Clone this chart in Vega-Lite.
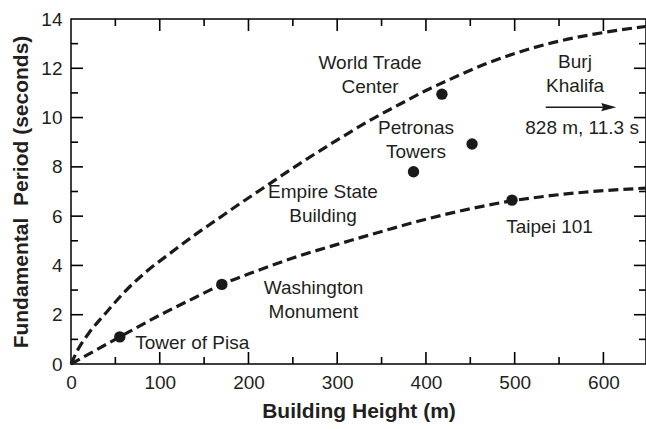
{
  "$schema": "https://vega.github.io/schema/vega-lite/v6.json",
  "width": 575,
  "height": 345,
  "autosize": "none",
  "padding": {"left": 71, "top": 19, "right": 0, "bottom": 65},
  "config": {
    "view": {"stroke": "#000", "strokeWidth": 1.5},
    "font": "Liberation Sans",
    "axis": {"grid": false, "domain": false, "ticks": false, "labelColor": "#231f20", "titleColor": "#231f20", "labelFont": "Liberation Sans", "titleFont": "Liberation Sans", "labelFlush": false, "labelOverlap": false}
  },
  "datasets": {
    "curves": [
      {"curve": "upper", "h": 0, "T": 0},
      {"curve": "upper", "h": 8, "T": 0.6},
      {"curve": "upper", "h": 20, "T": 1.25},
      {"curve": "upper", "h": 40, "T": 2.1},
      {"curve": "upper", "h": 61, "T": 2.95},
      {"curve": "upper", "h": 85, "T": 3.75},
      {"curve": "upper", "h": 112, "T": 4.5},
      {"curve": "upper", "h": 140, "T": 5.25},
      {"curve": "upper", "h": 164, "T": 5.85},
      {"curve": "upper", "h": 190, "T": 6.5},
      {"curve": "upper", "h": 215, "T": 7.1},
      {"curve": "upper", "h": 250, "T": 7.95},
      {"curve": "upper", "h": 296, "T": 9.0},
      {"curve": "upper", "h": 340, "T": 9.95},
      {"curve": "upper", "h": 371, "T": 10.55},
      {"curve": "upper", "h": 400, "T": 11.1},
      {"curve": "upper", "h": 427, "T": 11.55},
      {"curve": "upper", "h": 469, "T": 12.2},
      {"curve": "upper", "h": 500, "T": 12.6},
      {"curve": "upper", "h": 544, "T": 13.05},
      {"curve": "upper", "h": 600, "T": 13.45},
      {"curve": "upper", "h": 648, "T": 13.7},
      {"curve": "lower", "h": 0, "T": 0},
      {"curve": "lower", "h": 55, "T": 1.1},
      {"curve": "lower", "h": 100, "T": 1.98},
      {"curve": "lower", "h": 140, "T": 2.7},
      {"curve": "lower", "h": 170, "T": 3.23},
      {"curve": "lower", "h": 202, "T": 3.68},
      {"curve": "lower", "h": 250, "T": 4.3},
      {"curve": "lower", "h": 314, "T": 5.0},
      {"curve": "lower", "h": 360, "T": 5.48},
      {"curve": "lower", "h": 390, "T": 5.78},
      {"curve": "lower", "h": 450, "T": 6.3},
      {"curve": "lower", "h": 497, "T": 6.62},
      {"curve": "lower", "h": 540, "T": 6.83},
      {"curve": "lower", "h": 578, "T": 6.97},
      {"curve": "lower", "h": 620, "T": 7.08},
      {"curve": "lower", "h": 648, "T": 7.14}
    ],
    "buildings": [
      {"name": "Tower of Pisa", "h": 55, "T": 1.1},
      {"name": "Washington Monument", "h": 170, "T": 3.23},
      {"name": "Empire State Building", "h": 386, "T": 7.8},
      {"name": "World Trade Center", "h": 418, "T": 10.95},
      {"name": "Petronas Towers", "h": 452, "T": 8.93},
      {"name": "Taipei 101", "h": 497, "T": 6.65}
    ],
    "labels": [
      {"text": "World Trade\nCenter", "h": 337, "T": 12.2},
      {"text": "Burj\nKhalifa", "h": 568, "T": 12.24},
      {"text": "828 m, 11.3 s", "h": 576, "T": 9.56},
      {"text": "Petronas\nTowers", "h": 388.8, "T": 9.59},
      {"text": "Empire State\nBuilding", "h": 284, "T": 6.99},
      {"text": "Washington\nMonument", "h": 273.3, "T": 3.07},
      {"text": "Tower of Pisa", "h": 136.6, "T": 0.84},
      {"text": "Taipei 101", "h": 539.3, "T": 5.55}
    ],
    "arrow": [
      {"h": 535, "h2": 606, "T": 10.42}
    ],
    "xticks": [
      {"h": 100, "T": 0.2435, "kind": "major"},
      {"h": 200, "T": 0.2435, "kind": "major"},
      {"h": 300, "T": 0.2435, "kind": "major"},
      {"h": 400, "T": 0.2435, "kind": "major"},
      {"h": 500, "T": 0.2435, "kind": "major"},
      {"h": 600, "T": 0.2435, "kind": "major"},
      {"h": 50, "T": 0.142, "kind": "minor"},
      {"h": 150, "T": 0.142, "kind": "minor"},
      {"h": 250, "T": 0.142, "kind": "minor"},
      {"h": 350, "T": 0.142, "kind": "minor"},
      {"h": 450, "T": 0.142, "kind": "minor"},
      {"h": 550, "T": 0.142, "kind": "minor"},
      {"h": 100, "T": 13.7565, "kind": "major"},
      {"h": 200, "T": 13.7565, "kind": "major"},
      {"h": 300, "T": 13.7565, "kind": "major"},
      {"h": 400, "T": 13.7565, "kind": "major"},
      {"h": 500, "T": 13.7565, "kind": "major"},
      {"h": 600, "T": 13.7565, "kind": "major"},
      {"h": 50, "T": 13.858, "kind": "minor"},
      {"h": 150, "T": 13.858, "kind": "minor"},
      {"h": 250, "T": 13.858, "kind": "minor"},
      {"h": 350, "T": 13.858, "kind": "minor"},
      {"h": 450, "T": 13.858, "kind": "minor"},
      {"h": 550, "T": 13.858, "kind": "minor"}
    ],
    "yticks": [
      {"h": 6.76, "T": 2, "kind": "major"},
      {"h": 6.76, "T": 4, "kind": "major"},
      {"h": 6.76, "T": 6, "kind": "major"},
      {"h": 6.76, "T": 8, "kind": "major"},
      {"h": 6.76, "T": 10, "kind": "major"},
      {"h": 6.76, "T": 12, "kind": "major"},
      {"h": 3.94, "T": 1, "kind": "minor"},
      {"h": 3.94, "T": 3, "kind": "minor"},
      {"h": 3.94, "T": 5, "kind": "minor"},
      {"h": 3.94, "T": 7, "kind": "minor"},
      {"h": 3.94, "T": 9, "kind": "minor"},
      {"h": 3.94, "T": 11, "kind": "minor"},
      {"h": 3.94, "T": 13, "kind": "minor"},
      {"h": 641.24, "T": 2, "kind": "major"},
      {"h": 641.24, "T": 4, "kind": "major"},
      {"h": 641.24, "T": 6, "kind": "major"},
      {"h": 641.24, "T": 8, "kind": "major"},
      {"h": 641.24, "T": 10, "kind": "major"},
      {"h": 641.24, "T": 12, "kind": "major"},
      {"h": 644.06, "T": 1, "kind": "minor"},
      {"h": 644.06, "T": 3, "kind": "minor"},
      {"h": 644.06, "T": 5, "kind": "minor"},
      {"h": 644.06, "T": 7, "kind": "minor"},
      {"h": 644.06, "T": 9, "kind": "minor"},
      {"h": 644.06, "T": 11, "kind": "minor"},
      {"h": 644.06, "T": 13, "kind": "minor"}
    ]
  },
  "layer": [
    {
      "data": {"name": "curves"},
      "mark": {"type": "line", "strokeDash": [10, 5], "strokeWidth": 3.2, "color": "#1a1a1a", "interpolate": "monotone"},
      "encoding": {
        "x": {
          "field": "h", "type": "quantitative",
          "scale": {"domain": [0, 648], "nice": false, "zero": false},
          "axis": {
            "orient": "bottom",
            "values": [0, 100, 200, 300, 400, 500, 600],
            "labelFontSize": 19, "labelPadding": 9,
            "title": "Building Height (m)", "titleFontSize": 21, "titleFontWeight": "bold", "titlePadding": 8
          }
        },
        "y": {
          "field": "T", "type": "quantitative",
          "scale": {"domain": [0, 14], "nice": false, "zero": false},
          "axis": {
            "orient": "left",
            "values": [0, 2, 4, 6, 8, 10, 12, 14],
            "labelFontSize": 19, "labelPadding": 9,
            "title": "Fundamental\u00a0\u00a0Period (seconds)", "titleFontSize": 21, "titleFontWeight": "bold", "titlePadding": 9
          }
        },
        "detail": {"field": "curve"}
      }
    },
    {
      "data": {"name": "xticks"},
      "mark": {"type": "tick", "orient": "vertical", "thickness": 1.6, "color": "#000000", "opacity": 1},
      "encoding": {
        "x": {"field": "h", "type": "quantitative"},
        "y": {"field": "T", "type": "quantitative"},
        "size": {"field": "kind", "type": "nominal", "scale": {"domain": ["major", "minor"], "range": [12, 7]}, "legend": null}
      }
    },
    {
      "data": {"name": "yticks"},
      "mark": {"type": "tick", "orient": "horizontal", "thickness": 1.6, "color": "#000000", "opacity": 1},
      "encoding": {
        "x": {"field": "h", "type": "quantitative"},
        "y": {"field": "T", "type": "quantitative"},
        "size": {"field": "kind", "type": "nominal", "scale": {"domain": ["major", "minor"], "range": [12, 7]}, "legend": null}
      }
    },
    {
      "data": {"name": "buildings"},
      "mark": {"type": "point", "filled": true, "size": 130, "color": "#1a1a1a", "opacity": 1},
      "encoding": {
        "x": {"field": "h", "type": "quantitative"},
        "y": {"field": "T", "type": "quantitative"}
      }
    },
    {
      "data": {"name": "labels"},
      "mark": {"type": "text", "fontSize": 19, "lineBreak": "\n", "lineHeight": 24, "align": "center", "baseline": "middle", "color": "#231f20"},
      "encoding": {
        "x": {"field": "h", "type": "quantitative"},
        "y": {"field": "T", "type": "quantitative"},
        "text": {"field": "text"}
      }
    },
    {
      "data": {"name": "arrow"},
      "mark": {"type": "rule", "strokeWidth": 1.5, "color": "#1a1a1a"},
      "encoding": {
        "x": {"field": "h", "type": "quantitative"},
        "x2": {"field": "h2"},
        "y": {"field": "T", "type": "quantitative"}
      }
    },
    {
      "data": {"name": "arrow"},
      "mark": {"type": "point", "filled": true, "opacity": 1, "color": "#1a1a1a", "size": 225, "shape": "M -1 -0.55 L 1 0 L -1 0.55 L -0.75 0 Z"},
      "encoding": {
        "x": {"field": "h2", "type": "quantitative"},
        "y": {"field": "T", "type": "quantitative"}
      }
    }
  ],
  "resolve": {"scale": {"size": "independent"}}
}
